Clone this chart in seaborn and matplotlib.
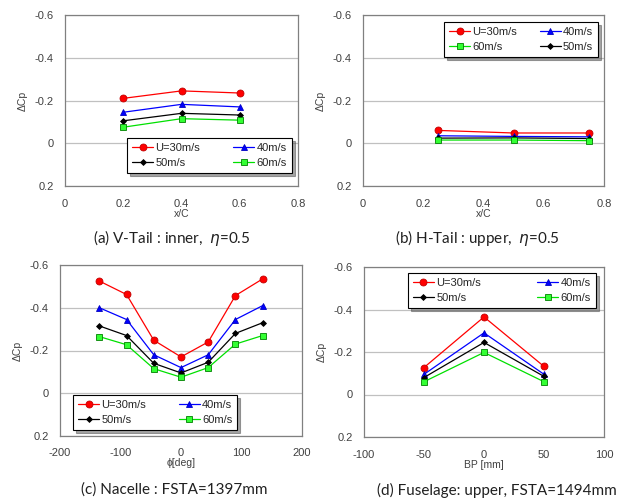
import matplotlib
matplotlib.use("Agg")
import matplotlib.pyplot as plt
import seaborn as sns
import pandas as pd

# speeds / legend labels
labels = ["U=30m/s", "40m/s", "50m/s", "60m/s"]

# (a) V-Tail : inner
x_a = [0.2, 0.4, 0.6]
a_30 = [-0.21, -0.245, -0.235]
a_40 = [-0.145, -0.182, -0.17]
a_50 = [-0.105, -0.14, -0.132]
a_60 = [-0.075, -0.115, -0.108]

# (b) H-Tail : upper
x_b = [0.25, 0.5, 0.75]
b_30 = [-0.06, -0.048, -0.048]
b_40 = [-0.035, -0.032, -0.03]
b_50 = [-0.024, -0.025, -0.022]
b_60 = [-0.015, -0.015, -0.012]

# (c) Nacelle : FSTA=1397mm
x_c = [-135, -90, -45, 0, 45, 90, 135]
c_30 = [-0.525, -0.462, -0.248, -0.17, -0.24, -0.457, -0.535]
c_40 = [-0.40, -0.345, -0.18, -0.12, -0.18, -0.345, -0.41]
c_50 = [-0.315, -0.27, -0.14, -0.095, -0.145, -0.28, -0.33]
c_60 = [-0.265, -0.227, -0.115, -0.075, -0.12, -0.23, -0.27]

# (d) Fuselage: upper, FSTA=1494mm
x_d = [-50, 0, 50]
d_30 = [-0.127, -0.365, -0.132]
d_40 = [-0.095, -0.29, -0.095]
d_50 = [-0.08, -0.245, -0.085]
d_60 = [-0.06, -0.198, -0.06]

titles = ["(a) V-Tail : inner,  $\\eta$=0.5", "(b) H-Tail : upper,  $\\eta$=0.5",
          "(c) Nacelle : FSTA=1397mm", "(d) Fuselage: upper, FSTA=1494mm"]
xlabels = ["x/C", "x/C", "\u03d5[deg]", "BP [mm]"]

sns.set_style("white")
plt.rcParams["font.family"] = ["Liberation Sans", "DejaVu Sans"]
plt.rcParams["mathtext.fontset"] = "dejavusans"
plt.rcParams["axes.unicode_minus"] = False

styles = {
    "U=30m/s": dict(color="#ff0000", marker="o", markersize=5, markerfacecolor="#ff0000", markeredgecolor="#c00000"),
    "40m/s": dict(color="#0000ff", marker="^", markersize=5, markerfacecolor="#0000ff", markeredgecolor="#0000c0"),
    "50m/s": dict(color="#000000", marker="D", markersize=3, markerfacecolor="#000000", markeredgecolor="#000000"),
    "60m/s": dict(color="#00e000", marker="s", markersize=5, markerfacecolor="#33ff33", markeredgecolor="#008000"),
}

W, H = 622, 503
# axes boxes in pixels: left, right, bottom, top
panels = [
    (x_a, [a_30, a_40, a_50, a_60], (0, 0.8, 0.2), [65, 298, 186, 15], ["U=30m/s", "50m/s", "40m/s", "60m/s"], (0.266, 0.075, 0.708, 0.2), "lower left"),
    (x_b, [b_30, b_40, b_50, b_60], (0, 0.8, 0.2), [363, 604, 186, 15], ["U=30m/s", "60m/s", "40m/s", "50m/s"], (0.336, 0.74, 0.639, 0.22), "upper left"),
    (x_c, [c_30, c_40, c_50, c_60], (-200, 200, 100), [60, 302, 436, 265], ["U=30m/s", "50m/s", "40m/s", "60m/s"], (0.054, 0.035, 0.678, 0.2), "lower left"),
    (x_d, [d_30, d_40, d_50, d_60], (-100, 100, 50), [364, 604, 437, 267], ["U=30m/s", "50m/s", "40m/s", "60m/s"], (0.183, 0.755, 0.783, 0.21), "upper left"),
]

fig = plt.figure(figsize=(W / 100, H / 100), dpi=100)

title_pos = [(172, 238), (477, 238), (174, 490), (497, 490)]

for i, (xs, series, xr, box, order, bb, loc) in enumerate(panels):
    l, r, bpx, tpx = box
    ax = fig.add_axes([l / W, 1 - bpx / H, (r - l) / W, (bpx - tpx) / H])
    handles = {}
    for lab, ys in zip(labels, series):
        df = pd.DataFrame({"x": xs, "y": ys})
        st = styles[lab]
        sns.lineplot(data=df, x="x", y="y", ax=ax, color=st["color"], linewidth=0.9,
                     marker=st["marker"], markersize=st["markersize"],
                     markerfacecolor=st["markerfacecolor"], markeredgecolor=st["markeredgecolor"],
                     markeredgewidth=0.6, label=lab)
        handles[lab] = ax.get_lines()[-1]
    ax.set_xlim(xr[0], xr[1])
    ax.set_xticks([xr[0] + k * xr[2] for k in range(int(round((xr[1] - xr[0]) / xr[2])) + 1)])
    ax.set_ylim(0.2, -0.6)
    ax.set_yticks([0.2, 0, -0.2, -0.4, -0.6])
    ax.set_yticklabels(["0.2", "0", "-0.2", "-0.4", "-0.6"])
    if xr[2] < 1:
        ax.set_xticklabels(["0", "0.2", "0.4", "0.6", "0.8"])
    ax.yaxis.grid(True, color="#c0c0c0", linewidth=0.9)
    ax.xaxis.grid(False)
    for s in ax.spines.values():
        s.set_color("#808080")
        s.set_linewidth(0.9)
    ax.tick_params(labelsize=8, colors="#404040", length=0)
    ax.tick_params(axis="x", pad=9)
    ax.tick_params(axis="y", pad=8)
    ax.set_xlabel(xlabels[i], fontsize=7.5, color="#404040", labelpad=0)
    ax.set_ylabel("\u0394Cp", fontsize=7.5, color="#404040", labelpad=5)
    leg = ax.legend([handles[k] for k in order], order, ncol=2, loc=loc, bbox_to_anchor=bb,
                    mode="expand", fontsize=8, frameon=True, fancybox=False, shadow=True,
                    edgecolor="black", handlelength=1.9, handletextpad=0.2,
                    borderpad=0.45, labelspacing=0.45, columnspacing=1.0, borderaxespad=0)
    leg.get_frame().set_linewidth(0.8)
    fig.text(title_pos[i][0] / W, 1 - title_pos[i][1] / H, titles[i], ha="center", va="center",
             fontsize=11, family=["Lato", "DejaVu Sans"], color="#202020")

fig.savefig("out.png", dpi=100)
